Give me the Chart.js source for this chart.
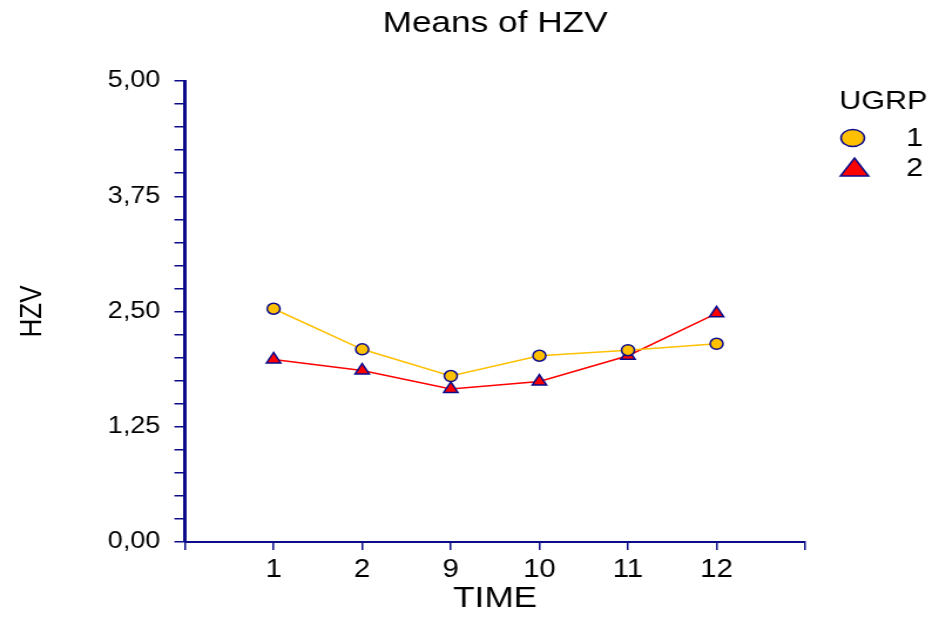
<!DOCTYPE html>
<html>
<head>
<meta charset="utf-8">
<script src="https://cdn.jsdelivr.net/npm/chart.js@4/dist/chart.umd.min.js"></script>
<style>
  html, body { margin: 0; padding: 0; background: #fff; }
  #hzv { display: block; }
</style>
</head>
<body>
<!-- the reference is horizontally stretched, so draw at 800 wide and stretch to 939 -->
<canvas id="hzv" width="800" height="619" style="width:939px;height:619px"></canvas>
<script>
// Means of HZV by TIME, per UGRP
const times = ['1', '2', '9', '10', '11', '12'];
const ugrp1 = [2.53, 2.09, 1.80, 2.02, 2.08, 2.15];
const ugrp2 = [1.98, 1.86, 1.66, 1.74, 2.02, 2.48];
const yTicks = [0, 1.25, 2.5, 3.75, 5];

const navy = '#0c0c8a';
const font = '"Liberation Sans", Arial, sans-serif';

const toPoints = (arr) => arr.map((v, i) => ({ x: i + 1, y: v }));

// title + legend drawn on the canvas
const extras = {
    id: 'extras',
    afterDraw(chart) {
        const ctx = chart.ctx;
        const area = chart.chartArea;
        ctx.save();
        ctx.fillStyle = '#000';
        ctx.textBaseline = 'middle';
        ctx.textAlign = 'center';
        ctx.font = '30px ' + font;
        ctx.fillText('Means of HZV', (area.left + area.right) / 2, 24);

        ctx.textAlign = 'left';
        ctx.font = '26px ' + font;
        ctx.fillText('UGRP', 715, 102);

        const ds = chart.data.datasets;
        // circle
        ctx.beginPath();
        ctx.ellipse(726.5, 138, 10, 8.5, 0, 0, Math.PI * 2);
        ctx.fillStyle = ds[0].pointBackgroundColor;
        ctx.fill();
        ctx.lineWidth = 1.5;
        ctx.strokeStyle = ds[0].pointBorderColor;
        ctx.stroke();
        // triangle
        ctx.beginPath();
        ctx.moveTo(728, 158);
        ctx.lineTo(740, 176);
        ctx.lineTo(716, 176);
        ctx.closePath();
        ctx.fillStyle = ds[1].pointBackgroundColor;
        ctx.fill();
        ctx.strokeStyle = ds[1].pointBorderColor;
        ctx.stroke();

        ctx.fillStyle = '#000';
        ctx.font = '26px ' + font;
        ctx.fillText(ds[0].label, 772, 139);
        ctx.fillText(ds[1].label, 772, 169);
        ctx.restore();
    }
};

new Chart(document.getElementById('hzv'), {
    type: 'line',
    data: {
        datasets: [{
            label: '1',
            data: toPoints(ugrp1),
            borderColor: '#ffc000',
            borderWidth: 1.5,
            pointStyle: 'circle',
            pointRadius: 5.5,
            pointBackgroundColor: '#ffc000',
            pointBorderColor: navy,
            pointBorderWidth: 1.5
        }, {
            label: '2',
            data: toPoints(ugrp2),
            borderColor: '#ff0000',
            borderWidth: 1.5,
            pointStyle: 'triangle',
            pointRadius: 7,
            pointBackgroundColor: '#ff0000',
            pointBorderColor: navy,
            pointBorderWidth: 1.5
        }]
    },
    options: {
        responsive: false,
        animation: false,
        layout: {
            padding: { top: 81, right: 114, bottom: 0, left: 0 }
        },
        plugins: {
            legend: { display: false },
            title: { display: false },
            tooltip: { enabled: false }
        },
        scales: {
            x: {
                type: 'linear',
                min: 0,
                max: times.length + 1,
                afterFit: (scale) => { scale.height = 77; },
                afterBuildTicks: (scale) => {
                    scale.ticks = [];
                    for (let i = 0; i <= times.length + 1; i++) scale.ticks.push({ value: i });
                },
                ticks: {
                    autoSkip: false,
                    maxRotation: 0,
                    padding: 5,
                    color: '#000',
                    font: { family: font, size: 25 },
                    callback: (v) => times[v - 1] || ''
                },
                grid: {
                    drawOnChartArea: false,
                    tickLength: 8,
                    color: navy,
                    lineWidth: 1.5
                },
                border: { color: navy, width: 2 },
                title: {
                    display: true,
                    text: 'TIME',
                    color: '#000',
                    font: { family: font, size: 30 },
                    padding: { top: 0, bottom: 2 }
                }
            },
            y: {
                min: 0,
                max: 5,
                afterFit: (scale) => { scale.width = 157.6; },
                ticks: {
                    stepSize: 0.25,
                    autoSkip: false,
                    padding: 12,
                    color: '#000',
                    font: { family: font, size: 23 },
                    callback: (v) => {
                        const hit = yTicks.find((t) => Math.abs(t - v) < 1e-6);
                        return hit === undefined ? '' : hit.toFixed(2).replace('.', ',');
                    }
                },
                grid: {
                    drawOnChartArea: false,
                    tickLength: 9,
                    color: navy,
                    lineWidth: 1.5
                },
                border: { color: navy, width: 3 },
                title: {
                    display: true,
                    text: 'HZV',
                    color: '#000',
                    font: { family: font, size: 26 },
                    padding: { top: 12, bottom: 0 }
                }
            }
        }
    },
    plugins: [extras]
});
</script>
</body>
</html>
